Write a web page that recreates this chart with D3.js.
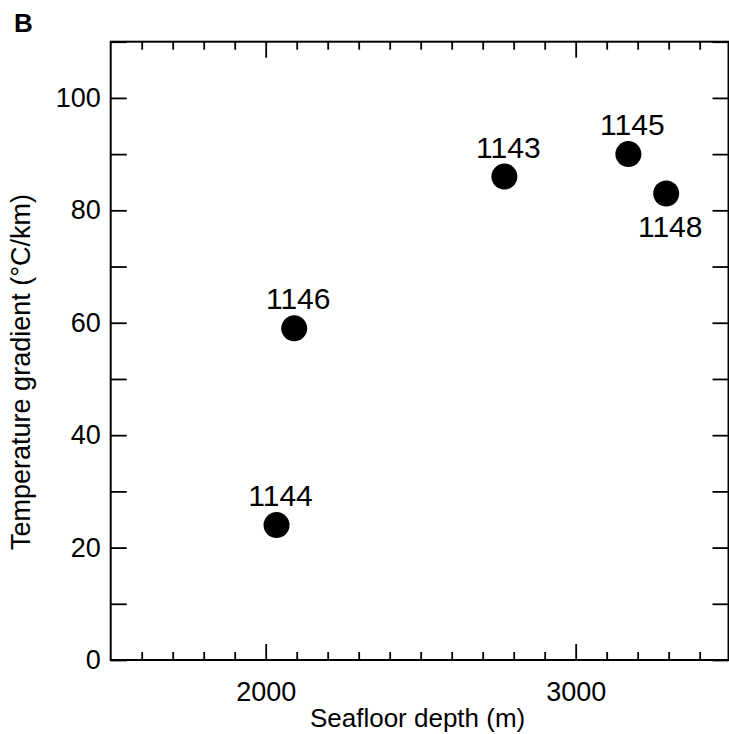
<!DOCTYPE html>
<html>
<head>
<meta charset="utf-8">
<script src="https://cdn.jsdelivr.net/npm/d3@7"></script>
<style>
  html, body { margin: 0; padding: 0; background: #fff; }
  text { font-family: "Liberation Sans", Arial, Helvetica, sans-serif; fill: #000; }
</style>
</head>
<body>
<svg id="chart" width="729" height="734"></svg>
<script>
// ---- data ----
const sites = ["1144", "1146", "1143", "1145", "1148"];
const depths = [2035, 2092, 2770, 3170, 3292];          // Seafloor depth (m)
const gradients = [24, 59, 86, 90, 83];                  // Temperature gradient (°C/km)
const labelBelow = [false, false, false, false, true];
const xTickValues = [2000, 3000];
const yTickValues = [0, 20, 40, 60, 80, 100];
const xDomain = [1500, 3493];
const yDomain = [0, 110];
const xTitle = "Seafloor depth (m)";
const yTitle = "Temperature gradient (\u00B0C/km)";
const panelLabel = "B";

// ---- layout ----
const svg = d3.select("#chart");
const L = 110.7, R = 728.5, T = 41.7, B = 660;
const x = d3.scaleLinear().domain(xDomain).range([L, R]);
const y = d3.scaleLinear().domain(yDomain).range([B, T]);

const minorX = d3.range(1600, 3500, 100).filter(v => v < xDomain[1] && v % 1000 !== 0);
const minorY = d3.range(0, 111, 10);

const lineColor = "#000";

function styleAxis(g) {
  g.select(".domain").remove();
  g.selectAll("line").attr("stroke", lineColor).attr("stroke-width", 1.8);
}

// bottom minor + major
svg.append("g").attr("transform", `translate(0,${B})`)
  .call(d3.axisBottom(x).tickValues(minorX).tickSize(-8).tickFormat(""))
  .call(styleAxis);
svg.append("g").attr("transform", `translate(0,${B})`)
  .call(d3.axisBottom(x).tickValues(xTickValues).tickSize(-16).tickPadding(22).tickFormat(d3.format("d")))
  .call(styleAxis)
  .call(g => g.selectAll("text").attr("font-size", 27).attr("dy", "0.71em"));
// top
svg.append("g").attr("transform", `translate(0,${T})`)
  .call(d3.axisTop(x).tickValues(minorX).tickSize(-8).tickFormat(""))
  .call(styleAxis);
svg.append("g").attr("transform", `translate(0,${T})`)
  .call(d3.axisTop(x).tickValues(xTickValues).tickSize(-16).tickFormat(""))
  .call(styleAxis);
// left
svg.append("g").attr("transform", `translate(${L},0)`)
  .call(d3.axisLeft(y).tickValues(minorY).tickSize(-16).tickFormat(""))
  .call(styleAxis);
svg.append("g").attr("transform", `translate(${L},0)`)
  .call(d3.axisLeft(y).tickValues(yTickValues).tickSize(0).tickPadding(10).tickFormat(d3.format("d")))
  .call(styleAxis)
  .call(g => g.selectAll("text").attr("font-size", 27));
// right
svg.append("g").attr("transform", `translate(${R},0)`)
  .call(d3.axisRight(y).tickValues(minorY).tickSize(-16).tickFormat(""))
  .call(styleAxis);

// frame
svg.append("rect")
  .attr("x", L).attr("y", T).attr("width", R - L).attr("height", B - T)
  .attr("fill", "none").attr("stroke", lineColor).attr("stroke-width", 2);

// titles
svg.append("text").attr("x", (L + R) / 2 - 2).attr("y", 727)
  .attr("text-anchor", "middle").attr("font-size", 26).text(xTitle);
svg.append("text").attr("transform", `translate(30,372) rotate(-90)`)
  .attr("text-anchor", "middle").attr("font-size", 27).text(yTitle);
svg.append("text").attr("x", 14).attr("y", 32)
  .attr("font-size", 26).attr("font-weight", "bold").text(panelLabel);

// points
const pts = sites.map((s, i) => ({ site: s, d: depths[i], g: gradients[i], below: labelBelow[i] }));
svg.append("g").selectAll("circle").data(pts).join("circle")
  .attr("cx", d => x(d.d)).attr("cy", d => y(d.g)).attr("r", 13).attr("fill", "#000");
svg.append("g").selectAll("text").data(pts).join("text")
  .attr("x", d => x(d.d) + 4)
  .attr("y", d => d.below ? y(d.g) + 44 : y(d.g) - 19)
  .attr("text-anchor", "middle").attr("font-size", 30)
  .text(d => d.site);
</script>
</body>
</html>
